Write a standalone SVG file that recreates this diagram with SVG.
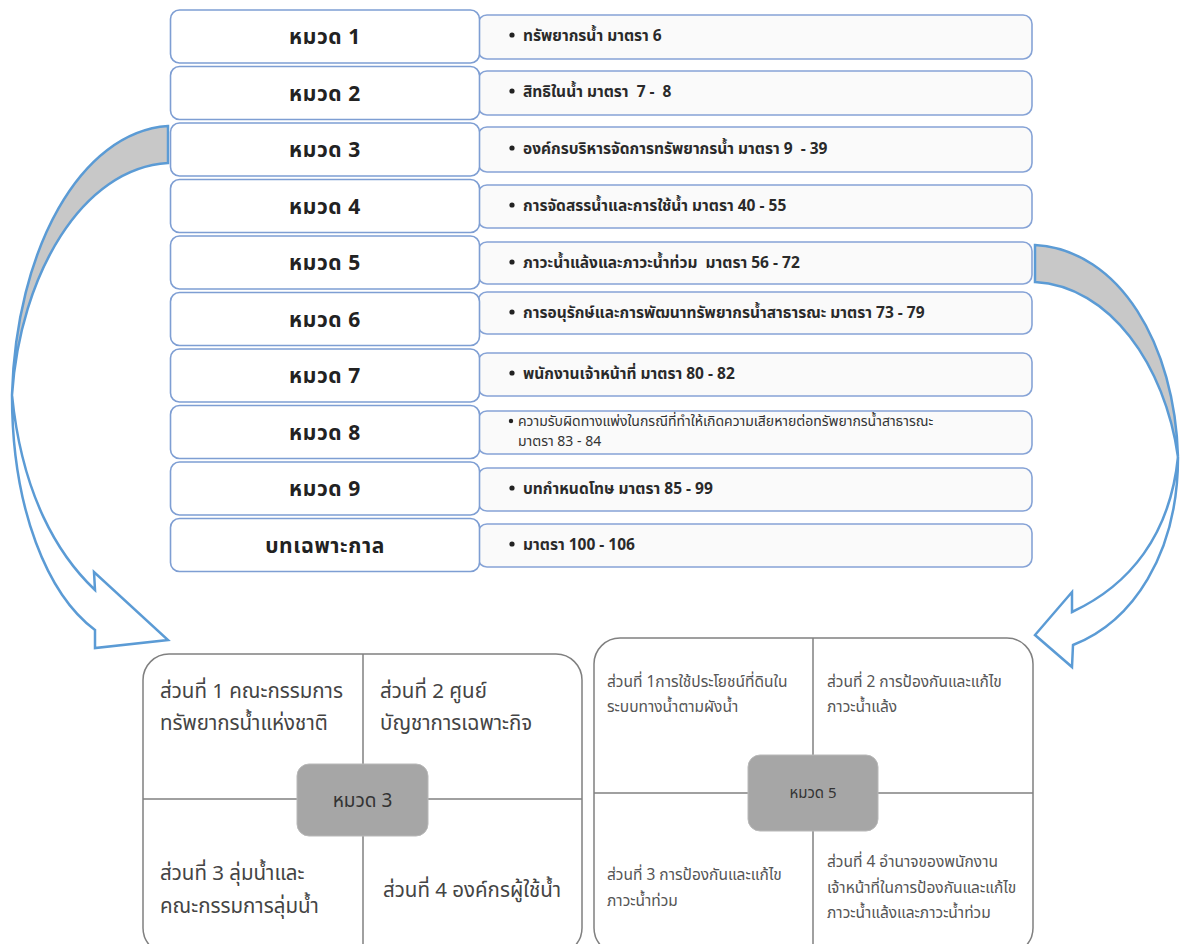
<svg xmlns="http://www.w3.org/2000/svg" width="1181" height="944" viewBox="0 0 1181 944">
  <style>
    text { font-family: "Noto Sans Thai", "Noto Sans", "DejaVu Sans", sans-serif; }
    .cat { fill: #ffffff; stroke: #7e9ed3; stroke-width: 1.6; }
    .det { fill: #fafafa; stroke: #86a3d6; stroke-width: 1.6; }
    .catText { font-size: 21px; font-weight: bold; fill: #222; text-anchor: middle; letter-spacing: 0.6px; }
    .detText { font-size: 15.5px; font-weight: bold; fill: #2a2a2a; }
    .detSmall { font-size: 14px; fill: #333; }
    .bullet { fill: #222; }
    .arrowBack { fill: #c8c8c8; stroke: #5b9bd5; stroke-width: 2.5; stroke-linejoin: miter; }
    .arrowFront { fill: #ffffff; stroke: #5b9bd5; stroke-width: 2.5; stroke-linejoin: miter; }
    .panel { fill: #ffffff; stroke: #808080; stroke-width: 1.5; }
    .divider { stroke: #808080; stroke-width: 1.5; }
    .hub { fill: #a6a6a6; stroke: #b8b8b8; stroke-width: 1; }
    .partBig { font-size: 20.5px; fill: #444; }
    .partSmall { font-size: 15.5px; fill: #555; }
  </style>

  <!-- connectors: curved block arrows -->
  <g id="connectors">
    <g id="arrow-left">
      <path class="arrowBack" d="M168,126 C80,132 16,250 12,395 C20,275 82,168 168,163 Z"/>
      <path class="arrowFront" d="M12,395 C12,510 48,595 95,630 L95,648 L168,640 L94,572 L95,590 C58,555 22,495 12,395 Z"/>
    </g>
    <g id="arrow-right">
      <path class="arrowBack" d="M1035,245 C1120,250 1175,345 1178,457 C1165,365 1110,286 1035,282 Z"/>
      <path class="arrowFront" d="M1178,457 C1178,555 1132,622 1073,645 L1072,667 L1035,635 L1072,592 L1072,612 C1130,585 1170,535 1178,457 Z"/>
    </g>
  </g>

  <!-- detail rows (right column) -->
  <g id="details">
    <g id="detail-1"><rect class="det" x="478" y="15" width="554" height="44" rx="9"/><circle class="bullet" cx="512" cy="35" r="2.6"/><text class="detText" x="523" y="41">ทรัพยากรน้ำ มาตรา 6</text></g>
    <g id="detail-2"><rect class="det" x="478" y="71" width="554" height="44" rx="9"/><circle class="bullet" cx="512" cy="91" r="2.6"/><text class="detText" x="523" y="97" xml:space="preserve">สิทธิในน้ำ มาตรา  7 -  8</text></g>
    <g id="detail-3"><rect class="det" x="478" y="127" width="554" height="45" rx="9"/><circle class="bullet" cx="512" cy="148" r="2.6"/><text class="detText" x="523" y="154" xml:space="preserve">องค์กรบริหารจัดการทรัพยากรน้ำ มาตรา 9  - 39</text></g>
    <g id="detail-4"><rect class="det" x="478" y="185" width="554" height="43" rx="9"/><circle class="bullet" cx="512" cy="205" r="2.6"/><text class="detText" x="523" y="211">การจัดสรรน้ำและการใช้น้ำ มาตรา 40 - 55</text></g>
    <g id="detail-5"><rect class="det" x="478" y="242" width="554" height="42" rx="9"/><circle class="bullet" cx="512" cy="262" r="2.6"/><text class="detText" x="523" y="268" xml:space="preserve">ภาวะน้ำแล้งและภาวะน้ำท่วม  มาตรา 56 - 72</text></g>
    <g id="detail-6"><rect class="det" x="478" y="292" width="554" height="42" rx="9"/><circle class="bullet" cx="512" cy="312" r="2.6"/><text class="detText" x="523" y="318">การอนุรักษ์และการพัฒนาทรัพยากรน้ำสาธารณะ มาตรา 73 - 79</text></g>
    <g id="detail-7"><rect class="det" x="478" y="353" width="554" height="43" rx="9"/><circle class="bullet" cx="512" cy="373" r="2.6"/><text class="detText" x="523" y="379">พนักงานเจ้าหน้าที่ มาตรา 80 - 82</text></g>
    <g id="detail-8"><rect class="det" x="478" y="411" width="554" height="43" rx="9"/><circle class="bullet" cx="511" cy="421" r="2.2"/><text class="detSmall" x="518" y="426">ความรับผิดทางแพ่งในกรณีที่ทำให้เกิดความเสียหายต่อทรัพยากรน้ำสาธารณะ</text><text class="detSmall" x="518" y="446">มาตรา 83 - 84</text></g>
    <g id="detail-9"><rect class="det" x="478" y="468" width="554" height="43" rx="9"/><circle class="bullet" cx="512" cy="488" r="2.6"/><text class="detText" x="523" y="494">บทกำหนดโทษ มาตรา 85 - 99</text></g>
    <g id="detail-10"><rect class="det" x="478" y="524" width="554" height="43" rx="9"/><circle class="bullet" cx="512" cy="544" r="2.6"/><text class="detText" x="523" y="550">มาตรา 100 - 106</text></g>
  </g>

  <!-- category boxes (left column) -->
  <g id="categories">
    <g id="cat-1"><rect class="cat" x="170.5" y="10" width="309" height="53" rx="9"/><text class="catText" x="325" y="44">หมวด 1</text></g>
    <g id="cat-2"><rect class="cat" x="170.5" y="66.5" width="309" height="53" rx="9"/><text class="catText" x="325" y="100.5">หมวด 2</text></g>
    <g id="cat-3"><rect class="cat" x="170.5" y="123" width="309" height="53" rx="9"/><text class="catText" x="325" y="157">หมวด 3</text></g>
    <g id="cat-4"><rect class="cat" x="170.5" y="179.5" width="309" height="53" rx="9"/><text class="catText" x="325" y="213.5">หมวด 4</text></g>
    <g id="cat-5"><rect class="cat" x="170.5" y="236" width="309" height="53" rx="9"/><text class="catText" x="325" y="270">หมวด 5</text></g>
    <g id="cat-6"><rect class="cat" x="170.5" y="292.5" width="309" height="53" rx="9"/><text class="catText" x="325" y="326.5">หมวด 6</text></g>
    <g id="cat-7"><rect class="cat" x="170.5" y="349" width="309" height="53" rx="9"/><text class="catText" x="325" y="383">หมวด 7</text></g>
    <g id="cat-8"><rect class="cat" x="170.5" y="405.5" width="309" height="53" rx="9"/><text class="catText" x="325" y="439.5">หมวด 8</text></g>
    <g id="cat-9"><rect class="cat" x="170.5" y="462" width="309" height="53" rx="9"/><text class="catText" x="325" y="496">หมวด 9</text></g>
    <g id="cat-10"><rect class="cat" x="170.5" y="518.5" width="309" height="53" rx="9"/><text class="catText" x="325" y="552.5">บทเฉพาะกาล</text></g>
  </g>

  <!-- chapter 3 breakdown -->
  <g id="panel-3">
    <rect class="panel" x="143" y="654" width="439" height="300" rx="26"/>
    <line class="divider" x1="363" y1="654" x2="363" y2="944"/>
    <line class="divider" x1="143" y1="799" x2="582" y2="799"/>
    <rect class="hub" x="297" y="764" width="131" height="72" rx="12"/>
    <text x="362.5" y="807" style="font-size:19px; fill:#333; text-anchor:middle;">หมวด 3</text>
    <text class="partBig" x="160" y="698">ส่วนที่ 1 คณะกรรมการ</text>
    <text class="partBig" x="160" y="730">ทรัพยากรน้ำแห่งชาติ</text>
    <text class="partBig" x="380" y="698">ส่วนที่ 2 ศูนย์</text>
    <text class="partBig" x="380" y="730">บัญชาการเฉพาะกิจ</text>
    <text class="partBig" x="160" y="880">ส่วนที่ 3 ลุ่มน้ำและ</text>
    <text class="partBig" x="160" y="913">คณะกรรมการลุ่มน้ำ</text>
    <text class="partBig" x="383" y="897">ส่วนที่ 4 องค์กรผู้ใช้น้ำ</text>
  </g>

  <!-- chapter 5 breakdown -->
  <g id="panel-5">
    <rect class="panel" x="594" y="638" width="439" height="316" rx="26"/>
    <line class="divider" x1="813" y1="638" x2="813" y2="944"/>
    <line class="divider" x1="594" y1="793" x2="1033" y2="793"/>
    <rect class="hub" x="748" y="755" width="130" height="76" rx="12"/>
    <text x="813" y="798" style="font-size:15px; fill:#333; text-anchor:middle;">หมวด 5</text>
    <text class="partSmall" x="607" y="687">ส่วนที่ 1การใช้ประโยชน์ที่ดินใน</text>
    <text class="partSmall" x="607" y="712">ระบบทางน้ำตามผังน้ำ</text>
    <text class="partSmall" x="827" y="687">ส่วนที่ 2 การป้องกันและแก้ไข</text>
    <text class="partSmall" x="827" y="712">ภาวะน้ำแล้ง</text>
    <text class="partSmall" x="607" y="880">ส่วนที่ 3 การป้องกันและแก้ไข</text>
    <text class="partSmall" x="607" y="906">ภาวะน้ำท่วม</text>
    <text class="partSmall" x="827" y="867">ส่วนที่ 4 อำนาจของพนักงาน</text>
    <text class="partSmall" x="827" y="893">เจ้าหน้าที่ในการป้องกันและแก้ไข</text>
    <text class="partSmall" x="827" y="918">ภาวะน้ำแล้งและภาวะน้ำท่วม</text>
  </g>
</svg>
